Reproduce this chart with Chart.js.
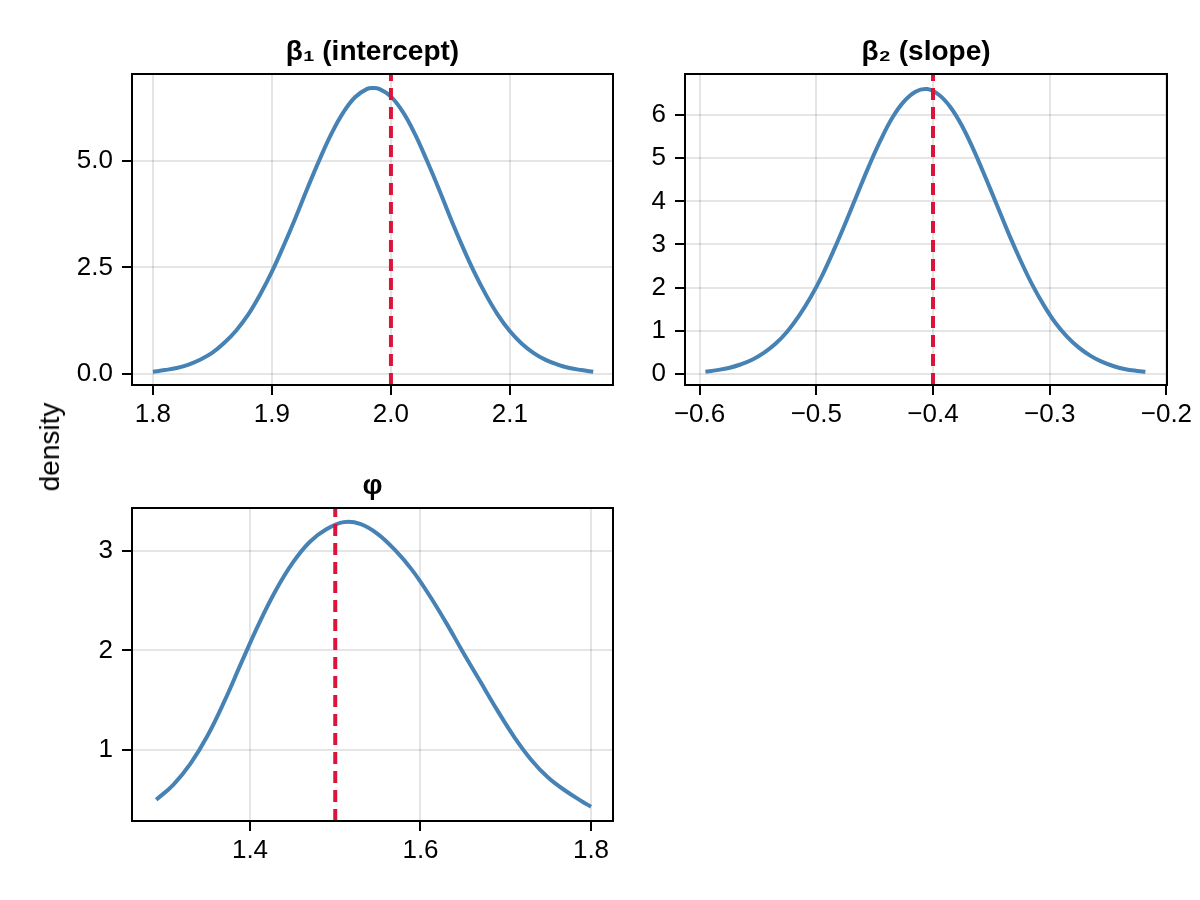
<!DOCTYPE html>
<html>
<head>
<meta charset="utf-8">
<script src="https://cdn.jsdelivr.net/npm/chart.js@4.4.1/dist/chart.umd.min.js"></script>
<style>
  body { margin: 0; background: #fff; }
  #fig { position: relative; width: 1200px; height: 900px; background: #fff; }
  canvas { position: absolute; }
  #ylab {
    position: absolute; left: 50px; top: 447px;
    transform: translate(-50%, -50%) rotate(-90deg);
    font: 28px "Liberation Sans", "DejaVu Sans", sans-serif; color: #000; white-space: nowrap;
  }
</style>
</head>
<body>
<div id="fig">
  <canvas id="p1" width="640" height="450" style="left:0;top:0"></canvas>
  <canvas id="p2" width="560" height="450" style="left:640px;top:0"></canvas>
  <canvas id="p3" width="640" height="450" style="left:0;top:450px"></canvas>
  <div id="ylab">density</div>
</div>
<script>
// ---------- data ----------
const b1Title = "β₁ (intercept)";
const b1X = [1.80,1.81,1.82,1.83,1.84,1.85,1.86,1.87,1.88,1.89,1.90,1.91,1.92,1.93,1.94,1.95,1.96,1.97,1.98,1.985,
             1.99,2.00,2.01,2.02,2.03,2.04,2.05,2.06,2.07,2.08,2.09,2.10,2.11,2.12,2.13,2.14,2.15,2.16,2.17];
const b1Y = [0.05,0.09,0.14,0.22,0.34,0.50,0.73,1.02,1.39,1.86,2.40,3.02,3.68,4.37,5.03,5.64,6.14,6.50,6.69,6.71,
             6.69,6.51,6.15,5.64,5.02,4.36,3.66,3.00,2.39,1.85,1.38,1.00,0.71,0.49,0.33,0.22,0.14,0.09,0.05];
const b1True = 2.0;
const b1XTicks = [1.8, 1.9, 2.0, 2.1];
const b1XLabels = ["1.8", "1.9", "2.0", "2.1"];
const b1YTicks = [0, 2.5, 5.0];
const b1YLabels = ["0.0", "2.5", "5.0"];

const b2Title = "β₂ (slope)";
const b2X = [-0.595,-0.585,-0.575,-0.565,-0.555,-0.545,-0.535,-0.525,-0.515,-0.505,-0.495,-0.485,-0.475,
             -0.465,-0.455,-0.445,-0.435,-0.425,-0.415,-0.405,-0.395,-0.385,-0.375,-0.365,-0.355,-0.345,
             -0.335,-0.325,-0.315,-0.305,-0.295,-0.285,-0.275,-0.265,-0.255,-0.245,-0.235,-0.225,-0.218];
const b2Y = [0.05,0.09,0.14,0.22,0.33,0.49,0.70,0.98,1.34,1.77,2.28,2.87,3.50,
             4.16,4.81,5.41,5.93,6.31,6.54,6.60,6.47,6.18,5.74,5.18,4.55,3.90,
             3.24,2.63,2.07,1.59,1.18,0.86,0.61,0.42,0.28,0.18,0.11,0.07,0.05];
const b2True = -0.4;
const b2XTicks = [-0.6, -0.5, -0.4, -0.3, -0.2];
const b2XLabels = ["−0.6", "−0.5", "−0.4", "−0.3", "−0.2"];
const b2YTicks = [0, 1, 2, 3, 4, 5, 6];
const b2YLabels = ["0", "1", "2", "3", "4", "5", "6"];

const phiTitle = "φ";
const phiX = [1.29,1.31,1.33,1.35,1.37,1.39,1.41,1.43,1.45,1.47,1.49,1.51,1.53,1.55,
              1.57,1.59,1.61,1.63,1.65,1.67,1.69,1.71,1.73,1.75,1.77,1.79,1.80];
const phiY = [0.50,0.65,0.86,1.14,1.49,1.88,2.26,2.60,2.88,3.09,3.22,3.29,3.27,3.17,
              3.01,2.81,2.56,2.28,1.98,1.69,1.40,1.13,0.90,0.72,0.59,0.48,0.43];
const phiTrue = 1.5;
const phiXTicks = [1.4, 1.6, 1.8];
const phiXLabels = ["1.4", "1.6", "1.8"];
const phiYTicks = [1, 2, 3];
const phiYLabels = ["1", "2", "3"];

// ---------- look ----------
const FONT = '"Liberation Sans", "DejaVu Sans", sans-serif';
const BLUE = '#4682b4';
const RED = '#dc143c';

const frameTitle = { // black box round the plot area + bold title over it
    id: 'frameTitle',
    afterDatasetsDraw(chart, args, opts) {
        const { ctx, chartArea: a } = chart;
        ctx.save();
        ctx.strokeStyle = '#000';
        ctx.lineWidth = 2;
        ctx.strokeRect(a.left, a.top, a.right - a.left, a.bottom - a.top);
        ctx.fillStyle = '#000';
        ctx.font = 'bold 28px ' + FONT;
        ctx.textAlign = 'center';
        ctx.textBaseline = 'middle';
        ctx.fillText(opts.text, (a.left + a.right) / 2, a.top - 22);
        ctx.restore();
    }
};

function axis(ticks, labels, min, max, isX, size) {
    return {
        type: 'linear',
        position: isX ? 'bottom' : 'left',
        min: min,
        max: max,
        afterBuildTicks: s => { s.ticks = ticks.map(v => ({ value: v })); },
        afterFit: s => {
            if (isX) s.height = size; else s.width = size;
            s.paddingLeft = 0; s.paddingRight = 0; s.paddingTop = 0; s.paddingBottom = 0;
        },
        ticks: {
            callback: (v, i) => labels[i],
            color: '#000',
            font: { family: FONT, size: 26 },
            padding: isX ? 4 : 9,
            maxRotation: 0,
            autoSkip: false
        },
        grid: {
            color: 'rgba(0,0,0,0.1)',
            lineWidth: 2,
            tickColor: '#000',
            tickLength: 10,
            tickWidth: 2
        },
        border: { display: false }
    };
}

function makePanel(id, p) {
    return new Chart(document.getElementById(id), {
        type: 'line',
        data: {
            datasets: [{
                data: [{ x: p.truth, y: p.yMin }, { x: p.truth, y: p.yMax }],
                borderColor: RED,
                borderWidth: 4,
                borderDash: [12, 7],
                pointRadius: 0,
                tension: 0,
                order: 0
            }, {
                data: p.xs.map((x, i) => ({ x: x, y: p.ys[i] })),
                borderColor: BLUE,
                borderWidth: 4,
                pointRadius: 0,
                tension: 0.4,
                order: 1
            }]
        },
        options: {
            responsive: false,
            animation: false,
            layout: { padding: p.pad },
            plugins: {
                legend: { display: false },
                tooltip: { enabled: false },
                frameTitle: { text: p.title }
            },
            scales: {
                x: axis(p.xTicks, p.xLabels, p.xMin, p.xMax, true, 50),
                y: axis(p.yTicks, p.yLabels, p.yMin, p.yMax, false, p.yWidth)
            }
        },
        plugins: [frameTitle]
    });
}

makePanel('p1', {
    title: b1Title, xs: b1X, ys: b1Y, truth: b1True,
    xTicks: b1XTicks, xLabels: b1XLabels, yTicks: b1YTicks, yLabels: b1YLabels,
    xMin: 1.7824, xMax: 2.1866, yMin: -0.26, yMax: 7.04,
    yWidth: 60, pad: { left: 72, right: 27, top: 74, bottom: 15 }
});

makePanel('p2', {
    title: b2Title, xs: b2X, ys: b2Y, truth: b2True,
    xTicks: b2XTicks, xLabels: b2XLabels, yTicks: b2YTicks, yLabels: b2YLabels,
    xMin: -0.6125, xMax: -0.1995, yMin: -0.255, yMax: 6.95,
    yWidth: 40, pad: { left: 5, right: 33, top: 74, bottom: 15 }
});

makePanel('p3', {
    title: phiTitle, xs: phiX, ys: phiY, truth: phiTrue,
    xTicks: phiXTicks, xLabels: phiXLabels, yTicks: phiYTicks, yLabels: phiYLabels,
    xMin: 1.2616, xMax: 1.8258, yMin: 0.286, yMax: 3.432,
    yWidth: 60, pad: { left: 72, right: 27, top: 58, bottom: 29 }
});
</script>
</body>
</html>
